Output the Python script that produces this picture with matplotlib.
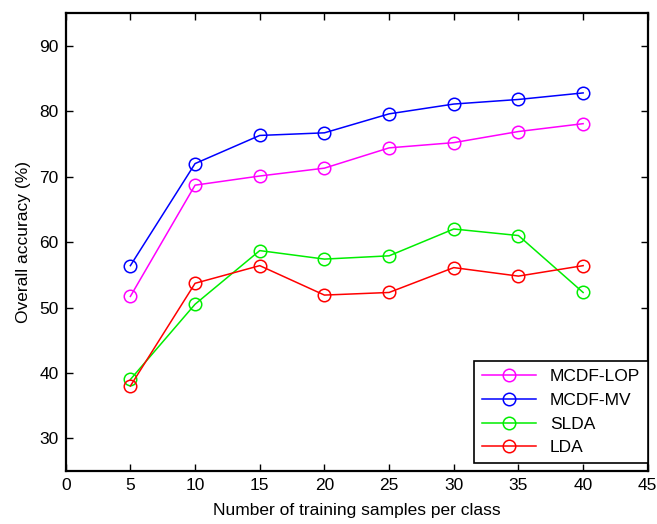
import matplotlib
matplotlib.use("Agg")
import matplotlib.pyplot as plt

plt.rcParams['font.family'] = ['Liberation Sans', 'DejaVu Sans']

samples = [5, 10, 15, 20, 25, 30, 35, 40]
acc_mcdf_lop = [51.7, 68.7, 70.1, 71.3, 74.4, 75.2, 76.9, 78.1]
acc_mcdf_mv = [56.4, 72.0, 76.3, 76.7, 79.6, 81.1, 81.8, 82.8]
acc_slda = [39.0, 50.5, 58.7, 57.4, 57.9, 62.0, 61.0, 52.3]
acc_lda = [38.0, 53.7, 56.4, 51.9, 52.3, 56.1, 54.8, 56.4]

fig = plt.figure(figsize=(6.57, 5.24), dpi=100)
ax = fig.add_axes([0.100, 0.101, 0.886, 0.874])

style = dict(marker="o", markerfacecolor="none", markersize=9, linewidth=1.1, markeredgewidth=1.1)
ax.plot(samples, acc_mcdf_lop, color="#ff00ff", label="MCDF-LOP", **style)
ax.plot(samples, acc_mcdf_mv, color="#0000ff", label="MCDF-MV", **style)
ax.plot(samples, acc_slda, color="#00ee00", label="SLDA", **style)
ax.plot(samples, acc_lda, color="#ff0000", label="LDA", **style)

ax.set_xlim(0, 45)
ax.set_ylim(25, 95)
ax.set_xticks(range(0, 46, 5))
ax.set_yticks(range(30, 91, 10))
ax.tick_params(direction="in", top=True, right=True, length=5, width=1, labelsize=12.5, pad=5)
for s in ax.spines.values():
    s.set_linewidth(1.6)

ax.set_xlabel("Number of training samples per class", fontsize=12.5, labelpad=7)
ax.set_ylabel("Overall accuracy (%)", fontsize=12.5, labelpad=6)

leg = ax.legend(loc="lower right", bbox_to_anchor=(1.0, 0.017), fontsize=12.5, fancybox=False,
                framealpha=1, edgecolor="black", borderaxespad=0, handlelength=3.1,
                labelspacing=0.5, borderpad=0.45)
leg.get_frame().set_linewidth(1.2)

fig.savefig("out.png", dpi=100)
